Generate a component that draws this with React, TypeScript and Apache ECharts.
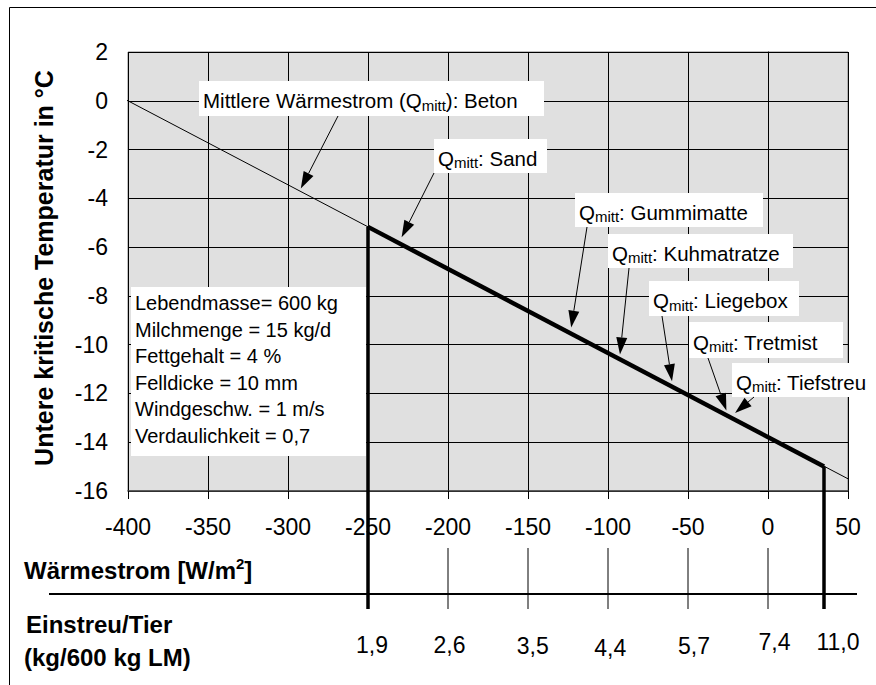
import React, { useEffect, useRef } from "react";
import * as echarts from "echarts";

// ---- data ----
const thinLine: [number, number][] = [[-405, 0.17], [50, -15.5]];
const thickLine: [number, number][] = [[-250, -5.17], [35, -15.0]];
const einstreuX = [-250, -200, -150, -100, -50, 0, 35];
const einstreuLabels = ["1,9", "2,6", "3,5", "4,4", "5,7", "7,4", "11,0"];
const verticalX = [-250, 35];
const verticalTopT = [-5.17, -15.0];
const paramLines = [
  "Lebendmasse= 600 kg",
  "Milchmenge = 15 kg/d",
  "Fettgehalt = 4 %",
  "Felldicke = 10 mm",
  "Windgeschw. = 1 m/s",
  "Verdaulichkeit = 0,7",
];
const annoPre = ["Mittlere Wärmestrom (Q", "Q", "Q", "Q", "Q", "Q", "Q"];
const annoSub = ["mitt", "mitt", "mitt", "mitt", "mitt", "mitt", "mitt"];
const annoPost = ["): Beton", ": Sand", ": Gummimatte", ": Kuhmatratze", ": Liegebox", ": Tretmist", ": Tiefstreu"];
const annoTipX = [-292, -229, -123, -92.5, -60, -26, -20.6];
const annoTipT = [-3.6, -5.6, -9.3, -10.4, -11.5, -12.7, -12.8];

// ---- layout (pixels) ----
const boxes = [
  { x: 199, y: 81, w: 345, h: 35, sx: 338, sy: 116 },
  { x: 434, y: 139, w: 113, h: 34, sx: 434, sy: 173 },
  { x: 575, y: 193, w: 188, h: 34, sx: 587, sy: 227 },
  { x: 608, y: 234, w: 185, h: 34, sx: 629, sy: 268 },
  { x: 649, y: 281, w: 150, h: 35, sx: 662, sy: 316 },
  { x: 689, y: 322, w: 154, h: 36, sx: 708, sy: 358 },
  { x: 732, y: 363, w: 140, h: 34, sx: 754, sy: 397 },
];
const labelDx = [4, 1.5, 4.7, 2.3, 6, 6.5, 14];
const labelY = [645, 645, 646, 648, 646, 642, 642];

const FONT = "'Liberation Sans', Arial, Helvetica, sans-serif";

export default function App() {
  const ref = useRef<HTMLDivElement>(null);
  useEffect(() => {
    document.body.style.margin = "0";
    if (!ref.current) return;
    const chart = echarts.init(ref.current, null, { renderer: "svg" });
    chart.setOption({
      animation: false,
      backgroundColor: "#ffffff",
      grid: {
        left: 128,
        top: 52,
        width: 720,
        height: 439,
        show: true,
        backgroundColor: "#e0e0e0",
        borderColor: "#808080",
        borderWidth: 1,
      },
      xAxis: {
        type: "value",
        min: -400,
        max: 50,
        interval: 50,
        axisLine: { show: true, onZero: false, lineStyle: { color: "#404040", width: 1.5 } },
        axisTick: { show: true, length: 8, lineStyle: { color: "#000" } },
        axisLabel: { fontSize: 23, color: "#000", fontFamily: FONT, margin: 24 },
        splitLine: { show: true, lineStyle: { color: "#000", width: 1 } },
      },
      yAxis: {
        type: "value",
        min: -16,
        max: 2,
        interval: 2,
        axisLine: { show: true, lineStyle: { color: "#000", width: 1 } },
        axisTick: { show: true, length: 8, lineStyle: { color: "#000" } },
        axisLabel: { fontSize: 23, color: "#000", fontFamily: FONT, margin: 20 },
        splitLine: { show: true, lineStyle: { color: "#000", width: 1 } },
      },
      series: [
        {
          type: "line",
          data: thinLine,
          clip: false,
          symbol: "none",
          lineStyle: { color: "#000", width: 1 },
          z: 3,
        },
        {
          type: "line",
          data: thickLine,
          clip: false,
          symbol: "none",
          lineStyle: { color: "#000", width: 4.5, cap: "butt" },
          z: 4,
        },
      ],
    });

    const px = (x: number, t: number) => chart.convertToPixel({ gridIndex: 0 }, [x, t]) as number[];
    const graphics: any[] = [];

    // frame
    graphics.push({
      type: "rect",
      shape: { x: 9.5, y: 7.5, width: 900, height: 700 },
      style: { fill: "none", stroke: "#000", lineWidth: 1 },
      silent: true,
      z: 1,
    });

    // y-axis title
    graphics.push({
      type: "text",
      x: 44,
      y: 268,
      rotation: Math.PI / 2,
      style: {
        text: "Untere kritische Temperatur in °C",
        fontSize: 25,
        fontWeight: "bold",
        fontFamily: FONT,
        fill: "#000",
        align: "center",
        verticalAlign: "middle",
      },
    });

    // parameter box
    graphics.push({
      type: "rect",
      shape: { x: 131, y: 287, width: 235, height: 169 },
      style: { fill: "#fff" },
      z: 10,
    });
    graphics.push({
      type: "text",
      x: 135,
      y: 290,
      z: 11,
      style: {
        text: paramLines.join("\n"),
        fontSize: 20,
        lineHeight: 26.5,
        fontFamily: FONT,
        fill: "#000",
        align: "left",
        verticalAlign: "top",
      },
    });

    // annotations
    for (let i = 0; i < boxes.length; i++) {
      const b = boxes[i];
      graphics.push({
        type: "rect",
        shape: { x: b.x, y: b.y, width: b.w, height: b.h },
        style: { fill: "#fff" },
        z: 10,
      });
      graphics.push({
        type: "text",
        x: b.x + 4,
        y: b.y + b.h / 2 + 2,
        z: 11,
        style: {
          text: `{a|${annoPre[i]}}{b|${annoSub[i]}}{a|${annoPost[i]}}`,
          fontFamily: FONT,
          align: "left",
          verticalAlign: "middle",
          rich: {
            a: { fontSize: 20.5, lineHeight: 24, fontFamily: FONT, fill: "#000" },
            b: { fontSize: 15, lineHeight: 15, fontFamily: FONT, fill: "#000", verticalAlign: "bottom" },
          },
        },
      });
      const tip = px(annoTipX[i], annoTipT[i]);
      const dx = tip[0] - b.sx;
      const dy = tip[1] - b.sy;
      const len = Math.sqrt(dx * dx + dy * dy);
      const ux = dx / len;
      const uy = dy / len;
      const L = 17;
      const hw = 5.5;
      const bx = tip[0] - ux * L;
      const by = tip[1] - uy * L;
      graphics.push({
        type: "line",
        shape: { x1: b.sx, y1: b.sy, x2: bx, y2: by },
        style: { stroke: "#000", lineWidth: 1 },
        z: 12,
      });
      graphics.push({
        type: "polygon",
        shape: {
          points: [
            [tip[0], tip[1]],
            [bx - uy * hw, by + ux * hw],
            [bx + uy * hw, by - ux * hw],
          ],
        },
        style: { fill: "#000" },
        z: 12,
      });
    }

    // second axis
    graphics.push({
      type: "line",
      shape: { x1: 49, y1: 594, x2: 857, y2: 594 },
      style: { stroke: "#000", lineWidth: 2 },
    });
    for (let i = 0; i < einstreuX.length; i++) {
      const p = px(einstreuX[i], 0);
      const k = verticalX.indexOf(einstreuX[i]);
      if (k >= 0) {
        const top = px(verticalX[k], verticalTopT[k]);
        graphics.push({
          type: "line",
          shape: { x1: top[0], y1: top[1], x2: top[0], y2: 609 },
          style: { stroke: "#000", lineWidth: 3.5 },
          z: 5,
        });
      } else {
        graphics.push({
          type: "line",
          shape: { x1: p[0], y1: 548, x2: p[0], y2: 609 },
          style: { stroke: "#000", lineWidth: 1 },
        });
      }
      graphics.push({
        type: "text",
        x: p[0] + labelDx[i],
        y: labelY[i],
        style: {
          text: einstreuLabels[i],
          fontSize: 23,
          fontFamily: FONT,
          fill: "#000",
          align: "center",
          verticalAlign: "middle",
        },
      });
    }

    graphics.push({
      type: "text",
      x: 24,
      y: 570,
      style: {
        text: "{a|Wärmestrom [W/m}{b|2}{a|]}",
        fontFamily: FONT,
        align: "left",
        verticalAlign: "middle",
        rich: {
          a: { fontSize: 24, fontWeight: "bold", lineHeight: 28, fontFamily: FONT, fill: "#000" },
          b: { fontSize: 15, fontWeight: "bold", lineHeight: 15, fontFamily: FONT, fill: "#000", verticalAlign: "top" },
        },
      },
    });
    graphics.push({
      type: "text",
      x: 26,
      y: 624,
      style: {
        text: "Einstreu/Tier",
        fontSize: 24,
        fontWeight: "bold",
        fontFamily: FONT,
        fill: "#000",
        align: "left",
        verticalAlign: "middle",
      },
    });
    graphics.push({
      type: "text",
      x: 24,
      y: 657,
      style: {
        text: "(kg/600 kg LM)",
        fontSize: 24,
        fontWeight: "bold",
        fontFamily: FONT,
        fill: "#000",
        align: "left",
        verticalAlign: "middle",
      },
    });

    chart.setOption({ graphic: graphics });

    return () => chart.dispose();
  }, []);
  return <div ref={ref} style={{ width: 876, height: 685 }} />;
}
